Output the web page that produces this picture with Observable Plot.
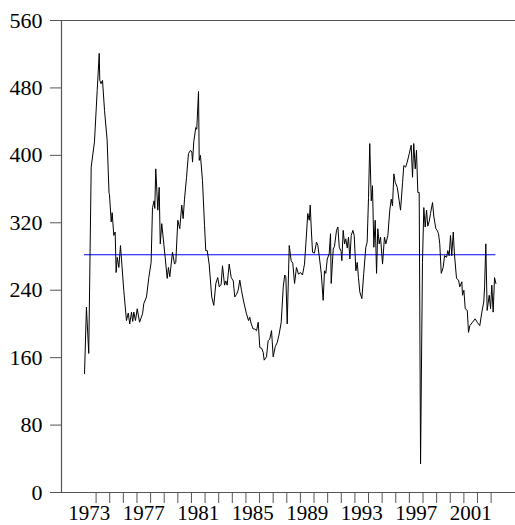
<!DOCTYPE html>
<html>
<head>
<meta charset="utf-8">
<script src="https://cdn.jsdelivr.net/npm/d3@7"></script>
<script src="https://cdn.jsdelivr.net/npm/@observablehq/plot@0.6"></script>
<style>
  html, body { margin: 0; padding: 0; background: #fff; }
</style>
</head>
<body>
<div id="chart"></div>
<script>
const dates = [
  1973.15,1973.29,1973.46,1973.64,1973.88,1974.08,1974.23,1974.27,1974.36,1974.47,
  1974.62,1974.81,1974.95,1974.98,1975.11,1975.18,1975.30,1975.40,1975.47,1975.55,
  1975.67,1975.79,1975.89,1976.03,1976.23,1976.36,1976.47,1976.60,1976.69,1976.77,
  1976.89,1977.02,1977.19,1977.41,1977.50,1977.70,1977.87,1978.04,
  1978.14,1978.26,1978.31,1978.38,1978.53,1978.63,1978.71,1978.82,1979.07,1979.22,
  1979.31,1979.41,1979.61,1979.76,1979.85,1980.00,1980.14,1980.29,1980.39,1980.49,
  1980.64,1980.78,1980.93,1981.03,1981.08,1981.17,1981.32,1981.39,1981.52,1981.57,
  1981.66,1981.81,1981.96,1982.05,1982.16,1982.30,1982.49,1982.64,1982.79,1982.93,
  1983.04,1983.18,1983.28,1983.43,1983.52,1983.62,1983.77,1983.92,1984.07,1984.18,
  1984.31,1984.43,1984.55,1984.67,1984.84,1985.04,1985.19,1985.28,1985.39,1985.53,
  1985.65,1985.78,1985.90,1986.02,1986.16,1986.27,1986.34,1986.51,1986.63,1986.75,
  1986.88,1987.00,1987.15,1987.30,1987.44,1987.59,1987.74,1987.85,1987.93,
  1988.03,1988.18,1988.32,1988.44,1988.57,1988.71,1988.86,1989.01,1989.15,1989.30,
  1989.40,1989.54,1989.65,1989.72,1989.79,1989.89,1990.03,1990.18,1990.28,1990.38,
  1990.53,1990.67,1990.77,1990.86,1990.97,1991.11,1991.21,1991.26,1991.41,1991.50,
  1991.65,1991.75,1991.85,1991.99,1992.04,1992.14,1992.24,1992.33,1992.44,1992.53,
  1992.63,1992.73,1992.85,1992.95,
  1993.07,1993.17,1993.26,1993.36,1993.51,1993.65,1993.80,1993.90,1994.00,1994.09,
  1994.20,1994.29,1994.39,1994.49,1994.59,1994.68,1994.78,1994.88,1995.03,1995.17,
  1995.27,1995.42,1995.56,1995.67,1995.76,1995.86,1995.96,1996.11,1996.25,1996.35,
  1996.50,1996.59,1996.72,1996.84,1996.99,1997.13,1997.23,1997.32,1997.43,1997.52,
  1997.62,1997.72,1997.82,
  1997.96,1998.06,1998.16,1998.26,1998.35,1998.46,1998.55,1998.70,1998.79,1998.94,
  1999.04,1999.14,1999.23,1999.34,1999.48,1999.58,1999.73,1999.82,1999.92,2000.02,
  2000.11,2000.22,2000.31,2000.46,2000.61,2000.70,2000.85,2000.90,2001.00,2001.10,
  2001.25,2001.34,2001.44,2001.63,2001.83,2001.98,2002.17,2002.32,2002.46,2002.52,
  2002.61,2002.71,2002.86,2002.96,2003.05,2003.15,2003.25,2003.35
];
const values = [
  141,220,165,386,416,477,521,489,485,489,
  453,418,355,354,321,332,305,309,261,279,
  267,293,271,240,204,213,200,214,203,214,
  204,218,202,212,224,232,255,273,
  338,346,337,384,335,362,295,319,279,254,
  267,256,285,271,273,323,313,341,325,348,
  374,402,406,404,392,416,433,431,476,394,
  400,370,317,287,287,271,232,222,248,255,
  244,247,269,246,251,246,271,255,251,232,
  235,240,252,240,226,212,204,208,200,194,
  194,192,202,172,171,166,157,161,180,182,
  192,161,173,178,188,202,244,258,256,
  200,293,275,272,248,267,259,261,258,271,
  295,331,323,341,315,285,284,297,293,281,
  260,228,263,260,277,283,307,248,289,292,
  311,315,291,286,275,311,295,301,290,303,
  277,305,311,305,
  263,273,255,238,230,260,291,297,350,414,
  346,364,291,323,260,313,295,303,271,303,
  295,305,335,348,340,378,368,362,346,335,
  368,388,386,392,402,412,374,414,384,406,
  356,356,34,
  273,338,315,335,316,322,331,344,328,313,
  311,307,295,260,267,281,279,287,281,305,
  281,309,282,254,252,244,250,234,240,218,
  216,190,198,202,206,202,198,214,226,244,
  295,216,234,218,246,214,255,248
];
const meanValue = 282;
const yTicks = [0, 80, 160, 240, 320, 400, 480, 560];
const yearTicks = d3.range(1974, 2004);          // tick marks at year starts
const yearLabels = [1973, 1977, 1981, 1985, 1989, 1993, 1997, 2001];

const data = dates.map((d, i) => ({date: d, value: values[i]}));
const font = "'Liberation Serif', 'Times New Roman', Times, serif";

const chart = Plot.plot({
  width: 515,
  height: 525,
  marginLeft: 61,
  marginRight: 0,
  marginTop: 20,
  marginBottom: 33,
  style: {fontFamily: font, fontSize: "22px", color: "#000", background: "#fff"},
  x: {domain: [1971.46, 2004.79], axis: null, label: null},
  y: {domain: [0, 560], axis: null, label: null},
  marks: [
    Plot.ruleY([0, 560], {stroke: "#555", strokeWidth: 1.2}),
    Plot.ruleX([1971.46], {stroke: "#555", strokeWidth: 1.2}),
    Plot.axisY({ticks: yTicks, label: null, tickSize: 11, tickPadding: 8, stroke: "#555", strokeOpacity: 1, fontSize: 22, fontFamily: font, tickFormat: d => String(d)}),
    Plot.axisX({ticks: yearTicks, label: null, tickSize: 11, tickFormat: () => "", stroke: "#555", strokeOpacity: 1}),
    Plot.axisX({ticks: yearLabels.map(y => y + 0.5), label: null, tickSize: 0, tickPadding: 13, fontSize: 21, fontFamily: font, tickFormat: d => String(Math.floor(d))}),
    Plot.ruleY([meanValue], {x1: dates[0], x2: dates[dates.length - 1], stroke: "#0000ff", strokeWidth: 1.1}),
    Plot.line(data, {x: "date", y: "value", stroke: "#000", strokeWidth: 1})
  ]
});
document.getElementById("chart").appendChild(chart);
</script>
</body>
</html>
